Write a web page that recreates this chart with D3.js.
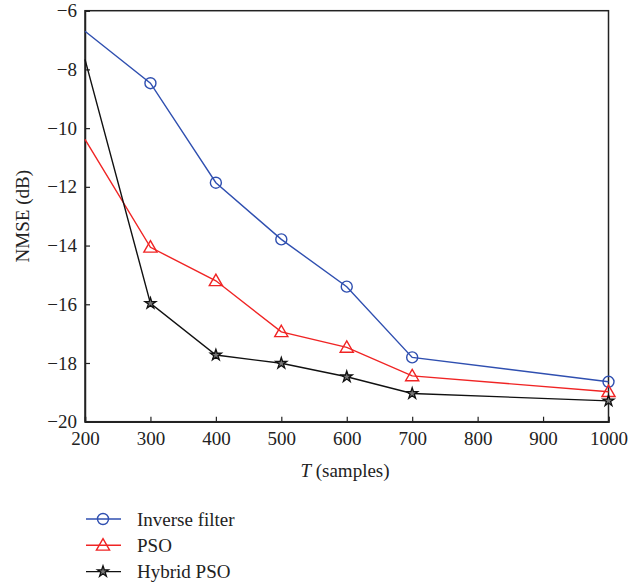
<!DOCTYPE html>
<html>
<head>
<meta charset="utf-8">
<script src="https://cdn.jsdelivr.net/npm/d3@7"></script>
<style>
  body { margin: 0; background: #fff; }
  svg text { font-family: "Liberation Serif", "DejaVu Serif", serif; fill: #222; }
</style>
</head>
<body>
<div id="chart"></div>
<script>
var samples = [200, 300, 400, 500, 600, 700, 1000];
var inverseFilter = [-6.7, -8.47, -11.86, -13.79, -15.4, -17.81, -18.64];
var pso = [-10.38, -14.06, -15.2, -16.94, -17.47, -18.44, -18.98];
var hybridPso = [-7.66, -15.97, -17.73, -18.01, -18.47, -19.04, -19.29];
var xTicks = [200, 300, 400, 500, 600, 700, 800, 900, 1000];
var yTicks = [-6, -8, -10, -12, -14, -16, -18, -20];

var margin = {top: 10.7, left: 85},
    width = 523.5,
    height = 411;

var svg = d3.select("#chart").append("svg")
    .attr("width", 640)
    .attr("height", 588);

var g = svg.append("g")
    .attr("transform", "translate(" + margin.left + "," + margin.top + ")");

var x = d3.scaleLinear().domain([200, 1000]).range([0, width]);
var y = d3.scaleLinear().domain([-20, -6]).range([height, 0]);

var fmt = function(d) { return d < 0 ? "\u2212" + Math.abs(d) : d; };

// frame
g.append("rect")
    .attr("width", width)
    .attr("height", height)
    .attr("fill", "none")
    .attr("stroke", "#222")
    .attr("stroke-width", 1.5);

var xAxis = g.append("g")
    .attr("transform", "translate(0," + height + ")")
    .call(d3.axisBottom(x).tickValues(xTicks).tickSize(-5).tickPadding(10).tickFormat(d3.format("d")));
var yAxis = g.append("g")
    .call(d3.axisLeft(y).tickValues(yTicks).tickSize(-5).tickPadding(8).tickFormat(fmt));

[xAxis, yAxis].forEach(function(a) {
  a.attr("font-family", null);
  a.select(".domain").attr("stroke", "#222").attr("stroke-width", 1.5);
  a.selectAll(".tick line").attr("stroke", "#222").attr("stroke-width", 1.2);
  a.selectAll("text")
      .style("font-family", "'Liberation Serif', 'DejaVu Serif', serif")
      .style("font-size", "19px")
      .attr("fill", "#222");
});

svg.append("text")
    .attr("x", 345)
    .attr("y", 477)
    .attr("text-anchor", "middle")
    .style("font-size", "19px")
    .html('<tspan font-style="italic">T</tspan> (samples)');

svg.append("text")
    .attr("transform", "translate(29," + (margin.top + height / 2) + ") rotate(-90)")
    .attr("text-anchor", "middle")
    .style("font-size", "19px")
    .text("NMSE (dB)");

var star = d3.symbol().type(d3.symbolStar).size(38);
var tri = d3.symbol().type(d3.symbolTriangle).size(75);

var series = [
  {name: "Inverse filter", values: inverseFilter, color: "#2f4fb0", marker: "circle"},
  {name: "PSO", values: pso, color: "#f02424", marker: "triangle"},
  {name: "Hybrid PSO", values: hybridPso, color: "#111", marker: "star"}
];

var line = d3.line()
    .x(function(d, i) { return x(samples[i]); })
    .y(function(d) { return y(d); });

function drawMarker(sel, s, cx, cy) {
  if (s.marker === "circle") {
    sel.append("circle").attr("cx", cx).attr("cy", cy).attr("r", 5.5)
        .attr("fill", "none").attr("stroke", s.color).attr("stroke-width", 1.4);
  } else if (s.marker === "triangle") {
    sel.append("path").attr("d", tri).attr("transform", "translate(" + cx + "," + (cy + 1) + ")")
        .attr("fill", "none").attr("stroke", s.color).attr("stroke-width", 1.4);
  } else {
    sel.append("path").attr("d", star).attr("transform", "translate(" + cx + "," + cy + ")")
        .attr("fill", "#777").attr("stroke", s.color).attr("stroke-width", 1.3);
  }
}

series.forEach(function(s) {
  g.append("path")
      .datum(s.values)
      .attr("d", line)
      .attr("fill", "none")
      .attr("stroke", s.color)
      .attr("stroke-width", 1.4);
  s.values.forEach(function(v, i) {
    if (i > 0) drawMarker(g, s, x(samples[i]), y(v));
  });
});

// legend
var legend = svg.append("g");
series.forEach(function(s, i) {
  var ly = 519 + i * 26.3;
  legend.append("line")
      .attr("x1", 86).attr("x2", 121)
      .attr("y1", ly).attr("y2", ly)
      .attr("stroke", s.color).attr("stroke-width", 1.4);
  drawMarker(legend, s, 103, ly);
  legend.append("text")
      .attr("x", 137)
      .attr("y", ly + 6.5)
      .style("font-size", "19px")
      .text(s.name);
});
</script>
</body>
</html>
